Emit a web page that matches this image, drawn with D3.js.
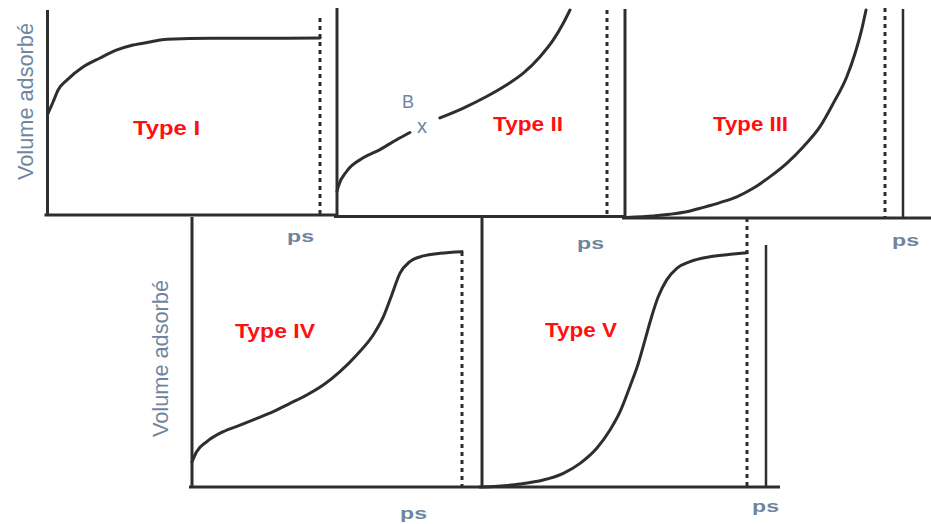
<!DOCTYPE html>
<html>
<head>
<meta charset="utf-8">
<script src="https://cdn.jsdelivr.net/npm/d3@7"></script>
<style>
  body { margin: 0; background: #fff; }
  svg { display: block; }
  text { font-family: "Liberation Sans", Arial, sans-serif; }
</style>
</head>
<body>
<div id="chart"></div>
<script>
// relative pressure p/ps (0 = axis, 1 = saturation) and adsorbed volume (0..1)
const relPressureI = [0, 0.01, 0.02, 0.039, 0.072, 0.13, 0.193, 0.255, 0.314, 0.376, 0.439, 0.6, 0.8, 1.0];
const volumeI      = [0.49, 0.52, 0.55, 0.61, 0.659, 0.722, 0.766, 0.805, 0.829, 0.844, 0.857, 0.862, 0.862, 0.863];

// type II has a break around point B
const relPressureII = [0, 0.005, 0.036, 0.097, 0.159, 0.221, 0.27, null, 0.381, 0.468, 0.554, 0.629, 0.69, 0.752, 0.801, 0.838, 0.863];
const volumeII      = [0.121, 0.146, 0.219, 0.284, 0.324, 0.372, 0.407, null, 0.477, 0.525, 0.581, 0.638, 0.694, 0.774, 0.855, 0.936, 1.0];

const relPressureIII = [0.007, 0.109, 0.173, 0.237, 0.301, 0.365, 0.43, 0.493, 0.558, 0.622, 0.686, 0.75, 0.801, 0.853, 0.885, 0.91, 0.927];
const volumeIII      = [0.003, 0.01, 0.018, 0.03, 0.051, 0.074, 0.102, 0.143, 0.199, 0.263, 0.343, 0.439, 0.551, 0.679, 0.792, 0.904, 1.0];

const relPressureIV = [0, 0.017, 0.054, 0.116, 0.178, 0.24, 0.301, 0.363, 0.425, 0.486, 0.548, 0.61, 0.671, 0.709, 0.74, 0.77, 0.807, 0.857, 0.919, 1.0];
const volumeIV      = [0.093, 0.131, 0.168, 0.206, 0.23, 0.255, 0.28, 0.311, 0.342, 0.379, 0.429, 0.491, 0.565, 0.633, 0.714, 0.794, 0.838, 0.859, 0.869, 0.875];

const relPressureV = [0, 0.143, 0.231, 0.307, 0.37, 0.433, 0.483, 0.521, 0.558, 0.59, 0.615, 0.64, 0.665, 0.697, 0.735, 0.785, 0.86, 0.948, 1.0];
const volumeV      = [0, 0.011, 0.026, 0.051, 0.088, 0.144, 0.212, 0.28, 0.373, 0.46, 0.546, 0.633, 0.707, 0.77, 0.813, 0.838, 0.856, 0.866, 0.871];

const typeLabels = ["Type I", "Type II", "Type III", "Type IV", "Type V"];
const axisLabel = "Volume adsorbé";
const pressureLabel = "ps";

const width = 931, height = 524;
const inkColor = "#2e2e2e";
const noteColor = "#70859d";

const panels = [
  { x: relPressureI,   y: volumeI,   x0: 47.5, x1: 320, base: 215, top: 10,  axisTop: 10,  dotTop: 18,  lineEnd: 337,
    label: { x: 133, y: 135, w: 67 }, ps: { x: 287, y: 242 } },
  { x: relPressureII,  y: volumeII,  x0: 337,  x1: 607, base: 216.5, top: 10, axisTop: 8,  dotTop: 10,  lineEnd: 625,
    label: { x: 493, y: 131, w: 70 }, ps: { x: 577, y: 249 } },
  { x: relPressureIII, y: volumeIII, x0: 625,  x1: 885, base: 218, top: 10,  axisTop: 9,   dotTop: 8,   lineEnd: 931,
    label: { x: 713, y: 131, w: 75 }, ps: { x: 892, y: 246 }, wall: { x: 903, top: 9 } },
  { x: relPressureIV,  y: volumeIV,  x0: 192,  x1: 462, base: 487, top: 218, axisTop: 217, dotTop: 252, lineEnd: 482,
    label: { x: 235, y: 338, w: 80 }, ps: { x: 400, y: 519 } },
  { x: relPressureV,   y: volumeV,   x0: 482,  x1: 747, base: 487, top: 218, axisTop: 218, dotTop: 218, lineEnd: 780,
    label: { x: 545, y: 337, w: 72 }, ps: { x: 752, y: 512 }, wall: { x: 766, top: 245 } }
];

const svg = d3.select("#chart").append("svg")
  .attr("width", width)
  .attr("height", height)
  .attr("viewBox", [0, 0, width, height]);

svg.append("rect").attr("width", width).attr("height", height).attr("fill", "#fff");

panels.forEach(function (p, i) {
  const x = d3.scaleLinear([0, 1], [p.x0, p.x1]);
  const y = d3.scaleLinear([0, 1], [p.base, p.top]);
  const g = svg.append("g");

  // baseline and volume axis
  g.append("line")
    .attr("x1", x(0) - 3).attr("x2", p.lineEnd)
    .attr("y1", y(0)).attr("y2", y(0))
    .attr("stroke", inkColor).attr("stroke-width", 3);
  g.append("line")
    .attr("x1", x(0)).attr("x2", x(0))
    .attr("y1", p.axisTop).attr("y2", y(0))
    .attr("stroke", inkColor).attr("stroke-width", 3);

  // saturation pressure (dotted)
  g.append("line")
    .attr("x1", x(1)).attr("x2", x(1))
    .attr("y1", p.dotTop).attr("y2", y(0))
    .attr("stroke", inkColor).attr("stroke-width", 3)
    .attr("stroke-dasharray", "4 4");

  if (p.wall) {
    g.append("line")
      .attr("x1", p.wall.x).attr("x2", p.wall.x)
      .attr("y1", p.wall.top).attr("y2", y(0))
      .attr("stroke", inkColor).attr("stroke-width", 2.5);
  }

  const pts = p.x.map(function (v, k) { return [v, p.y[k]]; });
  const line = d3.line()
    .defined(function (d) { return d[0] !== null; })
    .x(function (d) { return x(d[0]); })
    .y(function (d) { return y(d[1]); })
    .curve(d3.curveMonotoneX);

  g.append("path")
    .datum(pts)
    .attr("d", line)
    .attr("fill", "none")
    .attr("stroke", inkColor)
    .attr("stroke-width", 3)
    .attr("stroke-linecap", "round");

  g.append("text")
    .attr("x", p.label.x).attr("y", p.label.y)
    .attr("textLength", p.label.w).attr("lengthAdjust", "spacingAndGlyphs")
    .attr("font-size", 20.5).attr("font-weight", "bold")
    .attr("fill", "#ff1010")
    .text(typeLabels[i]);

  g.append("text")
    .attr("x", p.ps.x).attr("y", p.ps.y)
    .attr("textLength", 27).attr("lengthAdjust", "spacingAndGlyphs")
    .attr("font-size", 17).attr("font-weight", "bold")
    .attr("fill", noteColor)
    .text(pressureLabel);
});

// point B on type II
svg.append("text").attr("x", 402).attr("y", 108)
  .attr("font-size", 18).attr("fill", noteColor).text("B");
svg.append("text").attr("x", 417).attr("y", 133)
  .attr("font-size", 20).attr("fill", noteColor).text("x");

// volume axis titles
[{ x: 33, y: 101.5 }, { x: 168, y: 358.5 }].forEach(function (pos) {
  svg.append("text")
    .attr("transform", "translate(" + pos.x + "," + pos.y + ") rotate(-90)")
    .attr("text-anchor", "middle")
    .attr("textLength", 157).attr("lengthAdjust", "spacingAndGlyphs")
    .attr("font-size", 22)
    .attr("fill", noteColor)
    .text(axisLabel);
});
</script>
</body>
</html>
